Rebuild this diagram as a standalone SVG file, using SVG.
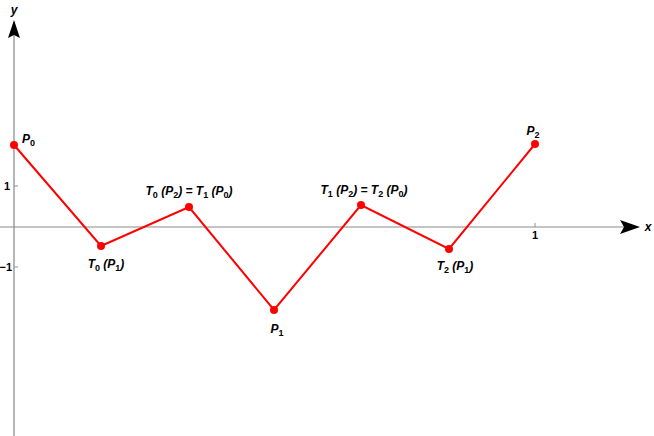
<svg xmlns="http://www.w3.org/2000/svg" width="654" height="436" viewBox="0 0 654 436">
<style>
.lbl{font-family:"Liberation Sans",Arial,sans-serif;font-size:12px;font-weight:bold;font-style:italic;fill:#000}
.sub{font-size:9px;font-style:normal}
.tick{font-family:"Liberation Sans",Arial,sans-serif;font-size:11px;font-weight:bold;fill:#000}
.pt{fill:#ff0000}
</style>
<rect width="654" height="436" fill="#fff"/>
<g id="axes">
<line x1="0" y1="227" x2="624" y2="227" stroke="#b0b0b0" stroke-width="1.3"/>
<polygon points="640,227 620,220 624,227 620,234" fill="#000"/>
<line x1="14" y1="436" x2="14" y2="34" stroke="#909090" stroke-width="1.3"/>
<polygon points="14,20 8,38 14,35 20,38" fill="#000"/>
<line x1="14" y1="186" x2="18" y2="186" stroke="#909090"/>
<line x1="14" y1="267" x2="18" y2="267" stroke="#909090"/>
<line x1="535" y1="223" x2="535" y2="227" stroke="#909090"/>
<text class="tick" x="10" y="190" text-anchor="end">1</text>
<text class="tick" x="12" y="271" text-anchor="end" font-size="10">−1</text>
<text class="tick" x="535" y="239" text-anchor="middle">1</text>
<text class="lbl" x="648" y="231" text-anchor="middle">x</text>
<text class="lbl" x="14" y="14" text-anchor="middle">y</text>
</g>
<g id="connectors">
<polyline points="14,145 101,246 189,207 274,310 361,205 449,249 535,144" fill="none" stroke="#ff0000" stroke-width="2"/>
</g>
<g id="P0"><circle class="pt" cx="14" cy="145" r="4"/><text class="lbl" x="22" y="143">P<tspan class="sub" dy="3">0</tspan></text></g>
<g id="T0P1"><circle class="pt" cx="101" cy="246" r="4"/><text class="lbl" x="106" y="268" text-anchor="middle">T<tspan class="sub" dy="3">0</tspan><tspan dy="-3"> (P</tspan><tspan class="sub" dy="3">1</tspan><tspan dy="-3">)</tspan></text></g>
<g id="T0P2"><circle class="pt" cx="189" cy="207" r="4"/><text class="lbl" x="189" y="195" text-anchor="middle">T<tspan class="sub" dy="3">0</tspan><tspan dy="-3"> (P</tspan><tspan class="sub" dy="3">2</tspan><tspan dy="-3">) = T</tspan><tspan class="sub" dy="3">1</tspan><tspan dy="-3"> (P</tspan><tspan class="sub" dy="3">0</tspan><tspan dy="-3">)</tspan></text></g>
<g id="P1"><circle class="pt" cx="274" cy="310" r="4"/><text class="lbl" x="277" y="333" text-anchor="middle">P<tspan class="sub" dy="3">1</tspan></text></g>
<g id="T1P2"><circle class="pt" cx="361" cy="205" r="4"/><text class="lbl" x="364" y="194" text-anchor="middle">T<tspan class="sub" dy="3">1</tspan><tspan dy="-3"> (P</tspan><tspan class="sub" dy="3">2</tspan><tspan dy="-3">) = T</tspan><tspan class="sub" dy="3">2</tspan><tspan dy="-3"> (P</tspan><tspan class="sub" dy="3">0</tspan><tspan dy="-3">)</tspan></text></g>
<g id="T2P1"><circle class="pt" cx="449" cy="249" r="4"/><text class="lbl" x="455" y="270" text-anchor="middle">T<tspan class="sub" dy="3">2</tspan><tspan dy="-3"> (P</tspan><tspan class="sub" dy="3">1</tspan><tspan dy="-3">)</tspan></text></g>
<g id="P2"><circle class="pt" cx="535" cy="144" r="4"/><text class="lbl" x="533" y="135" text-anchor="middle">P<tspan class="sub" dy="3">2</tspan></text></g>
</svg>
